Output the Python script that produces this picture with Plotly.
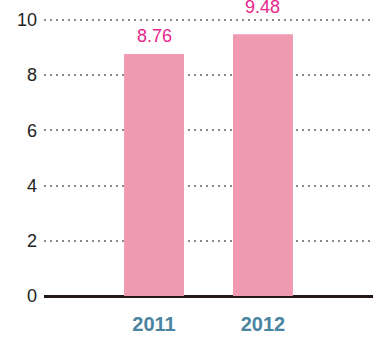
import plotly.graph_objects as go

years = ["2011", "2012"]
values = [8.76, 9.48]
value_labels = ["8.76", "9.48"]
y_ticks = [0, 2, 4, 6, 8, 10]

FONT = "Liberation Sans, Arial, Helvetica, sans-serif"
label_shift = [18, 27]  # pixel lift of each value label above its bar

fig = go.Figure(
    go.Bar(
        x=years,
        y=values,
        marker=dict(color="#f09ab2", line=dict(width=0)),
        width=0.55,
        hoverinfo="x+y",
    )
)

# value labels; category axes take the position index for annotations
for i, (val, txt, dy) in enumerate(zip(values, value_labels, label_shift)):
    fig.add_annotation(
        x=i, y=val, xref="x", yref="y", text=txt, showarrow=False,
        yshift=dy, yanchor="middle",
        font=dict(color="#e8258c", size=18, family=FONT),
    )

fig.update_layout(
    width=373,
    height=342,
    margin=dict(l=44, r=0, t=17, b=46),
    paper_bgcolor="white",
    plot_bgcolor="white",
    showlegend=False,
    font=dict(family=FONT, size=18, color="#222222"),
)

fig.update_xaxes(
    type="category",
    range=[-1.01, 2.01],
    showgrid=False,
    showline=False,
    ticks="",
    tickfont=dict(color="#4a84a0", size=20, family=FONT, weight="bold"),
    ticklabelstandoff=14,
)

fig.update_yaxes(
    range=[0, 10.1],
    tickvals=y_ticks,
    showgrid=True,
    gridcolor="#8a8a8a",
    gridwidth=1.6,
    griddash="2px,4px",
    zeroline=True,
    zerolinecolor="#231815",
    zerolinewidth=2.5,
    showline=False,
    ticks="",
    ticklabelstandoff=6,
    tickfont=dict(size=18, color="#222222"),
)

fig.write_html("out.html")
